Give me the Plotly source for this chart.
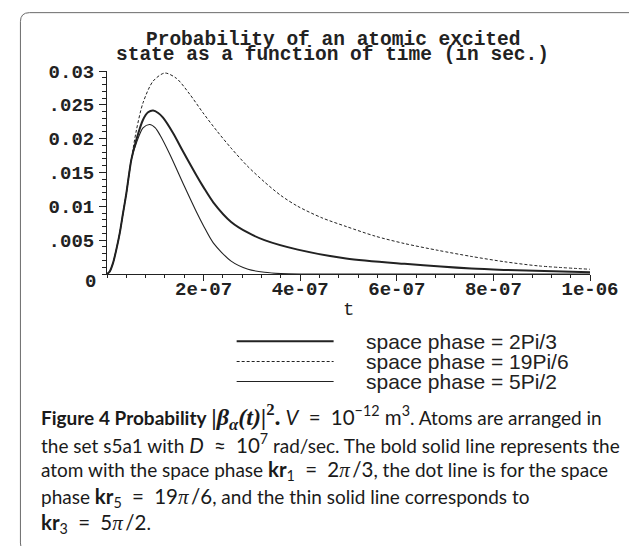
import plotly.graph_objects as go

# ---------------- data ----------------
t_bold = [0, 0.055e-7, 0.124e-7, 0.193e-7, 0.263e-7, 0.332e-7, 0.40e-7, 0.504e-7, 0.61e-7,
          0.746e-7, 0.85e-7, 0.954e-7, 1.06e-7, 1.16e-7, 1.37e-7, 1.575e-7, 1.85e-7, 2.0e-7,
          2.2e-7, 2.57e-7, 2.92e-7, 3.26e-7, 3.95e-7, 4.95e-7, 6.16e-7, 7.54e-7, 8.24e-7, 10e-7]
p_bold = [0, 0.00035, 0.0016, 0.0036, 0.0060, 0.0090, 0.0119, 0.0169, 0.0199,
          0.0228, 0.0239, 0.02416, 0.0238, 0.0231, 0.0208, 0.0181, 0.0146, 0.0128,
          0.0106, 0.0077, 0.0061, 0.0050, 0.0036, 0.0023, 0.0015, 0.0008, 0.0006, 0.00025]

t_dash = [0, 0.055e-7, 0.124e-7, 0.193e-7, 0.263e-7, 0.332e-7, 0.40e-7, 0.504e-7, 0.61e-7,
          0.746e-7, 0.954e-7, 1.195e-7, 1.44e-7, 1.71e-7, 1.99e-7, 2.28e-7, 2.57e-7, 2.9e-7,
          3.26e-7, 3.6e-7, 3.95e-7, 4.45e-7, 4.96e-7, 5.55e-7, 6.16e-7, 6.85e-7, 7.54e-7,
          8.24e-7, 8.93e-7, 10e-7]
p_dash = [0, 0.00035, 0.0016, 0.0036, 0.0060, 0.0090, 0.0119, 0.0169, 0.0213,
          0.0253, 0.0285, 0.0297, 0.0289, 0.0266, 0.0238, 0.0211, 0.0186, 0.0160,
          0.0136, 0.0116, 0.0100, 0.0083, 0.0070, 0.0056, 0.0045, 0.0035, 0.0026,
          0.0018, 0.0012, 0.0007]

t_thin = [0, 0.055e-7, 0.124e-7, 0.193e-7, 0.263e-7, 0.332e-7, 0.40e-7, 0.504e-7, 0.61e-7,
          0.746e-7, 0.885e-7, 1.0e-7, 1.1e-7, 1.3e-7, 1.6e-7, 1.85e-7, 2.0e-7, 2.2e-7,
          2.57e-7, 2.92e-7, 3.26e-7, 3.6e-7, 4.0e-7, 5.0e-7, 7.0e-7, 10e-7]
p_thin = [0, 0.00035, 0.0016, 0.0036, 0.0060, 0.0090, 0.0119, 0.0169, 0.0194,
          0.0216, 0.0221, 0.0216, 0.0205, 0.0177, 0.0130, 0.0092, 0.0071, 0.0046,
          0.0019, 0.0007, 0.00025, 0.00006, 0, 0, 0, 0]

series_names = ["space phase = 2Pi/3", "space phase = 19Pi/6", "space phase = 5Pi/2"]

x_tick_vals = [2e-7, 4e-7, 6e-7, 8e-7, 1e-6]
x_tick_text = ["2e-07", "4e-07", "6e-07", "8e-07", "1e-06"]
y_tick_vals = [0.005, 0.01, 0.015, 0.02, 0.025, 0.03]
y_tick_text = [".005", "0.01", ".015", "0.02", ".025", "0.03"]

title_lines = ["Probability of an atomic excited", "state as a function of time (in sec.)"]
x_title = "t"

SERIF = "'Liberation Serif', 'DejaVu Serif', serif"
EQ = "\u2002=\u2002"
APPROX = "\u2002≈\u2002"


def math(s, size=20.5):
    return f'<span style="font-size:{size}px">{s}</span>'


def pi_frac(num, den):
    return f'{num}<span style="font-family:{SERIF}; font-size:21px"><i>π</i></span>\u2009/{den}'


BETA = (f'<span style="font-family:{SERIF}; font-size:24px">'
        '<b><i>|β<sub>α</sub>(t)|</i><sup>2</sup>.</b></span>')
caption_lines = [
    "<b>Figure 4 Probability</b> " + BETA + " " + math("<i>V</i>" + EQ + "10<sup>−12</sup> m<sup>3</sup>")
    + ". Atoms are arranged in",
    "the set s5a1 with " + math("<i>D</i>" + APPROX + "10<sup>7</sup>") + " rad/sec. The bold solid line represents the",
    "atom with the space phase " + math("<b>kr</b><sub>1</sub>" + EQ + pi_frac(2, 3)) + ", the dot line is for the space",
    "phase " + math("<b>kr</b><sub>5</sub>" + EQ + pi_frac(19, 6)) + ", and the thin solid line corresponds to",
    math("<b>kr</b><sub>3</sub>" + EQ + pi_frac(5, 2)) + ".",
]

# ---------------- geometry ----------------
W_FIG, H_FIG = 637, 546
L, R = 99.3, 582.5
T, B = 63.2, 265.7
PW, PH = R - L, B - T


def px_x(p):
    return (p - L) / PW


def px_y(p):
    return (B - p) / PH


INK = "#222222"
MONO = "Liberation Mono, Courier New, monospace"
mono_b = dict(family=MONO, size=19, color=INK, weight="bold")

fig = go.Figure()
fig.add_trace(go.Scatter(x=t_bold, y=p_bold, mode="lines", name=series_names[0],
                         line=dict(color=INK, width=2.0, shape="spline", smoothing=0.8)))
fig.add_trace(go.Scatter(x=t_dash, y=p_dash, mode="lines", name=series_names[1],
                         line=dict(color=INK, width=1.0, dash="3px,2px", shape="spline", smoothing=0.8)))
fig.add_trace(go.Scatter(x=t_thin, y=p_thin, mode="lines", name=series_names[2],
                         line=dict(color=INK, width=1.1, shape="spline", smoothing=0.8)))

shapes = []
# rounded border box
bx0, bx1, by0, by1, r = 12.7, 635.0, 5.0, 543.0, 9.0


def P(x, y):
    return f"{px_x(x):.5f},{px_y(y):.5f}"


path = (f"M {P(bx0 + r, by0)} L {P(bx1 - r, by0)} Q {P(bx1, by0)} {P(bx1, by0 + r)} "
        f"L {P(bx1, by1 - r)} Q {P(bx1, by1)} {P(bx1 - r, by1)} "
        f"L {P(bx0 + r, by1)} Q {P(bx0, by1)} {P(bx0, by1 - r)} "
        f"L {P(bx0, by0 + r)} Q {P(bx0, by0)} {P(bx0 + r, by0)} Z")
shapes.append(dict(type="path", xref="paper", yref="paper", path=path,
                   line=dict(color="#6a6a6a", width=1)))

# legend samples
leg_y = [332.7, 353.0, 373.0]
leg_styles = [dict(width=2.0, dash="solid"), dict(width=1.0, dash="3px,2px"), dict(width=1.1, dash="solid")]
for yy, st in zip(leg_y, leg_styles):
    shapes.append(dict(type="line", xref="paper", yref="paper",
                       x0=px_x(229), x1=px_x(326), y0=px_y(yy), y1=px_y(yy),
                       line=dict(color=INK, width=st["width"], dash=st["dash"])))

annotations = []
# title (two tight lines)
for txt, yy in zip(title_lines, [32.0, 47.0]):
    annotations.append(dict(text=txt, xref="paper", yref="paper", x=px_x(325), y=px_y(yy),
                            xanchor="center", yanchor="middle", showarrow=False,
                            font=dict(family=MONO, size=19.5, color=INK, weight="bold")))
# zero label of y-axis (drawn lower, as in Maple)
annotations.append(dict(text="0", xref="paper", yref="paper", x=px_x(90), y=px_y(274),
                        xanchor="right", yanchor="middle", showarrow=False, font=mono_b))
# x-axis title
annotations.append(dict(text=x_title, xref="paper", yref="paper", x=px_x(340.5), y=px_y(302),
                        xanchor="center", yanchor="middle", showarrow=False,
                        font=dict(family=MONO, size=19, color=INK)))
# legend text
for txt, yy in zip(series_names, leg_y):
    annotations.append(dict(text=txt, xref="paper", yref="paper", x=px_x(356), y=px_y(yy),
                            xanchor="left", yanchor="middle", showarrow=False,
                            font=dict(family="Liberation Sans, Arial, sans-serif", size=21, color=INK)))
# caption
for txt, yy in zip(caption_lines, [408, 435, 462, 488.5, 515]):
    annotations.append(dict(text=txt, xref="paper", yref="paper", x=px_x(31), y=px_y(yy),
                            xanchor="left", yanchor="middle", showarrow=False,
                            font=dict(family="Lato, Liberation Sans, sans-serif", size=19, color="#1a1a1a")))

fig.update_layout(
    width=W_FIG, height=H_FIG, autosize=False,
    margin=dict(l=L, r=W_FIG - R, t=T, b=H_FIG - B, pad=0),
    plot_bgcolor="white", paper_bgcolor="white",
    showlegend=False,
    shapes=shapes, annotations=annotations,
    xaxis=dict(range=[0, 1e-6], showline=True, linecolor=INK, linewidth=1, mirror=False,
               ticks="outside", ticklen=6, tickwidth=1, tickcolor=INK,
               tickmode="array", tickvals=x_tick_vals, ticktext=x_tick_text,
               tickfont=mono_b, showgrid=False, zeroline=False, ticklabelstandoff=-9,
               minor=dict(tickmode="linear", tick0=0, dtick=4e-8, ticks="outside",
                          ticklen=3, tickwidth=1, tickcolor=INK, showgrid=False)),
    yaxis=dict(range=[0, 0.03], showline=True, linecolor=INK, linewidth=1, mirror=False,
               ticks="outside", ticklen=7, tickwidth=1, tickcolor=INK,
               tickmode="array", tickvals=y_tick_vals, ticktext=y_tick_text,
               tickfont=mono_b, showgrid=False, zeroline=False, ticklabelstandoff=1,
               minor=dict(tickmode="linear", tick0=0, dtick=0.001, ticks="outside",
                          ticklen=4, tickwidth=1, tickcolor=INK, showgrid=False)),
)

fig.write_html("out.html", config={"displayModeBar": False})
